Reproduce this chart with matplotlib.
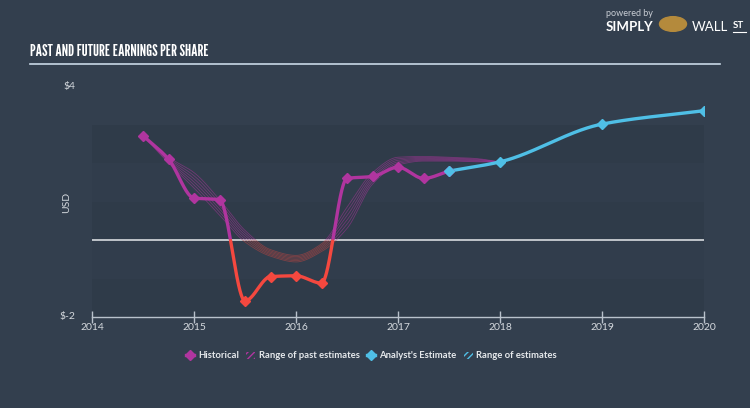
import numpy as np
import matplotlib
matplotlib.use("Agg")
import matplotlib.pyplot as plt
from matplotlib.lines import Line2D
from matplotlib.patches import Rectangle

# data
hist_x = [2014.5, 2014.75, 2015.0, 2015.25, 2015.5, 2015.75, 2016.0, 2016.25,
          2016.5, 2016.75, 2017.0, 2017.25, 2017.5]
hist_eps = [2.71, 2.10, 1.09, 1.05, -1.58, -0.95, -0.93, -1.12,
            1.60, 1.65, 1.89, 1.60, 1.79]

est_x = [2017.5, 2018.0, 2019.0, 2020.0]
est_eps = [1.79, 2.03, 3.01, 3.36]

rng_x = [2014.5, 2014.75, 2015.0, 2015.25, 2015.5, 2015.75, 2016.0, 2016.25,
         2016.5, 2016.75, 2017.0, 2017.25, 2017.5, 2017.75, 2018.0]
rng_lo = [2.71, 2.00, 1.35, 0.65, -0.05, -0.42, -0.57, -0.30,
          0.30, 1.45, 1.95, 2.05, 2.05, 2.03, 2.03]
rng_hi = [2.71, 2.15, 1.75, 1.05, 0.25, -0.25, -0.40, -0.10,
          0.85, 1.75, 2.15, 2.17, 2.15, 2.12, 2.03]

y_ticks = [-2, 4]
y_tick_labels = ["$-2", "$4"]
years = [2014, 2015, 2016, 2017, 2018, 2019, 2020]

BG = "#333f4e"
PURPLE = "#b0359f"
RED = "#f4483f"
CYAN = "#4fbfe6"
TXT = "#d5d9de"
BODY = ["Lato", "DejaVu Sans"]
TITLE = ["League Gothic", "Bebas Neue", "Oswald", "Antonio", "Liberation Sans Narrow", "DejaVu Sans"]

plt.rcParams["font.family"] = BODY


def pchip(x, y, xs):
    # monotone cubic (Fritsch-Carlson)
    x = np.asarray(x, float)
    y = np.asarray(y, float)
    h = np.diff(x)
    d = np.diff(y) / h
    m = np.zeros_like(y)
    for k in range(1, len(y) - 1):
        if d[k - 1] * d[k] > 0:
            w1 = 2 * h[k] + h[k - 1]
            w2 = h[k] + 2 * h[k - 1]
            m[k] = (w1 + w2) / (w1 / d[k - 1] + w2 / d[k])
    m[0] = d[0]
    m[-1] = d[-1]
    i = np.clip(np.searchsorted(x, xs) - 1, 0, len(h) - 1)
    t = (xs - x[i]) / h[i]
    h00 = 2 * t**3 - 3 * t**2 + 1
    h10 = t**3 - 2 * t**2 + t
    h01 = -2 * t**3 + 3 * t**2
    h11 = t**3 - t**2
    return h00 * y[i] + h10 * h[i] * m[i] + h01 * y[i + 1] + h11 * h[i] * m[i + 1]


def split_plot(ax, xs, ys, cpos, cneg, **kw):
    pos = np.where(ys >= 0, ys, np.nan)
    neg = np.where(ys <= 0, ys, np.nan)
    ax.plot(xs, pos, color=cpos, **kw)
    ax.plot(xs, neg, color=cneg, **kw)


fig = plt.figure(figsize=(7.5, 4.08), dpi=100, facecolor=BG)
ax = fig.add_axes([92 / 750, 1 - 317 / 408, 612 / 750, 231 / 408])
ax.set_facecolor("none")
ax.set_xlim(2014, 2020)
ax.set_ylim(-2, 4)

# banded background
for k, lo in enumerate(range(-2, 3)):
    ax.add_patch(Rectangle((2014, lo), 6, 1, color="#2f3b49" if k % 2 == 0 else "#313d4c",
                           lw=0, zorder=0))

ax.axhline(0, color="#e6e9ec", lw=1.1, zorder=1)

# range of past estimates
xs = np.linspace(rng_x[0], rng_x[-1], 800)
lo_s = pchip(rng_x, rng_lo, xs)
hi_s = pchip(rng_x, rng_hi, xs)
for f in np.linspace(0, 1, 6):
    yy = lo_s + f * (hi_s - lo_s)
    split_plot(ax, xs, yy, PURPLE, "#cc4640", lw=0.6, alpha=0.5, zorder=2)

# historical
xs = np.linspace(hist_x[0], hist_x[-1], 1500)
ys = pchip(hist_x, hist_eps, xs)
split_plot(ax, xs, ys, PURPLE, RED, lw=2.4, zorder=3, solid_capstyle="round")
hx = np.array(hist_x)
hy = np.array(hist_eps)
ax.plot(hx[hy >= 0], hy[hy >= 0], "D", color=PURPLE, ms=5, zorder=4)
ax.plot(hx[hy < 0], hy[hy < 0], "D", color=RED, ms=5, zorder=4)

# analyst estimate
xs = np.linspace(est_x[0], est_x[-1], 600)
ax.plot(xs, pchip(est_x, est_eps, xs), color=CYAN, lw=2.4, zorder=3)
ax.plot(est_x, est_eps, "D", color=CYAN, ms=5, zorder=4)

for s in ["top", "right", "left"]:
    ax.spines[s].set_visible(False)
ax.spines["bottom"].set_color("#b9c2cc")
ax.spines["bottom"].set_linewidth(1)
ax.set_xticks(years)
ax.set_xticklabels([str(y) for y in years])
ax.set_yticks(y_ticks)
ax.set_yticklabels(y_tick_labels)
ax.tick_params(axis="x", colors="#b9c2cc", labelcolor=TXT, labelsize=7.5,
               length=9, width=1, direction="inout", pad=0)
ax.tick_params(axis="y", length=0, labelcolor=TXT, labelsize=7.5, pad=12)
for lab in ax.get_yticklabels():
    lab.set_verticalalignment("center")
fig.text(67 / 750, 1 - 202 / 408, "USD", color=TXT, fontsize=7.5, rotation=90,
         ha="center", va="center")

# title and rule
fig.text(30 / 750, 1 - 52 / 408, "PAST AND FUTURE EARNINGS PER SHARE", color="white",
         fontsize=11.8, fontweight="bold", family=TITLE, va="center", ha="left")
fig.add_artist(Line2D([30 / 750, 720 / 750], [1 - 64 / 408] * 2, color="#c9d8e6", lw=1.2))

# logo
fig.text(606 / 750, 1 - 14 / 408, "powered by", color="#c9ced5", fontsize=6.5, va="center")
fig.text(606 / 750, 1 - 27 / 408, "SIMPLY", color="white", fontsize=9.5, fontweight="bold",
         va="center")
fig.text(692 / 750, 1 - 27 / 408, "WALL", color="white", fontsize=9.5, va="center")
fig.text(733 / 750, 1 - 26 / 408, "ST", color="white", fontsize=7, fontweight="bold",
         va="center")
fig.add_artist(Line2D([733 / 750, 746 / 750], [1 - 32 / 408] * 2, color="white", lw=0.8))
fig.add_artist(plt.Circle((673 / 750, 1 - 24 / 408), 0.018, color="#b48a3c",
                          transform=fig.transFigure))

# legend
handles = [
    Line2D([], [], color=PURPLE, marker="D", ms=5, lw=2.4),
    Rectangle((0, 0), 1, 1, facecolor="none", edgecolor=PURPLE, hatch="/////", lw=0),
    Line2D([], [], color=CYAN, marker="D", ms=5, lw=2.4),
    Rectangle((0, 0), 1, 1, facecolor="none", edgecolor=CYAN, hatch="/////", lw=0),
]
labels = ["Historical", "Range of past estimates", "Analyst's Estimate", "Range of estimates"]
leg = fig.legend(handles, labels, loc="center", bbox_to_anchor=(0.495, 1 - 356 / 408), ncol=4,
                 frameon=False, fontsize=6.8, labelcolor="#e6e9ec", handlelength=0.9,
                 handletextpad=0.4, columnspacing=0.8)
for t in leg.get_texts():
    t.set_fontweight("bold")

fig.savefig("out.png", dpi=100, facecolor=BG)
